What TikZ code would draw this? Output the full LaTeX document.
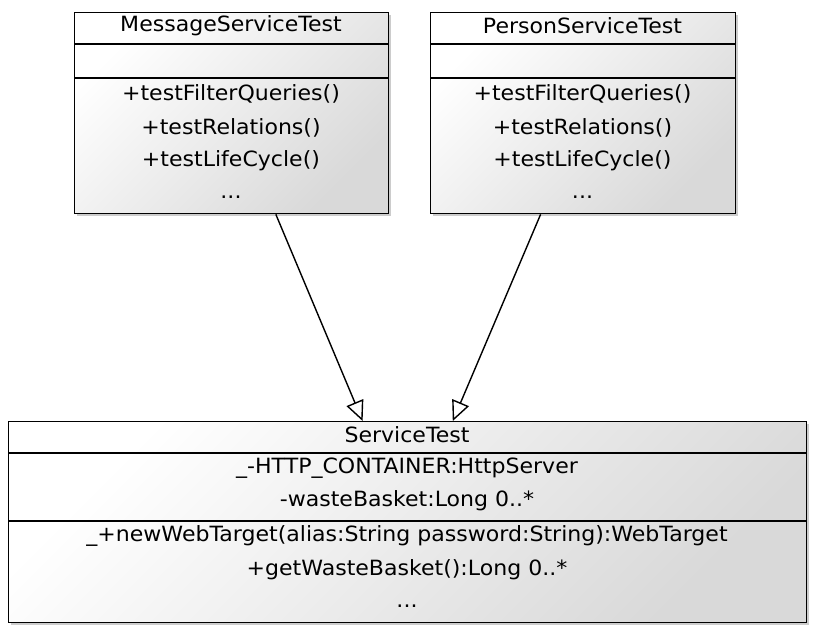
\documentclass[tikz,border=0pt]{standalone}
\usepackage{fontspec}
\usepackage{graphicx}
\setmainfont{DejaVu Sans}
\usetikzlibrary{arrows.meta,shadows,calc}
\newcommand\umltext[1]{\scalebox{1.05}[1]{#1}}
\tikzset{
  umlbox/.style={draw=black, line width=1.4pt, anchor=north west, inner sep=0pt,
    top color=white, bottom color=black!15, shading angle=45,
    drop shadow={shadow xshift=2.5pt, shadow yshift=-2.5pt, opacity=0.2, fill=black}},
  divider/.style={draw=black, line width=1.4pt},
  txt/.style={font=\fontsize{21}{24}\selectfont, inner sep=0pt, anchor=center},
  gen/.style={draw=black, line width=1.4pt, -{Triangle[open, length=20pt, width=18pt, fill=white]}}
}
\begin{document}
\begin{tikzpicture}[x=1pt,y=-1pt]
\useasboundingbox (0,0) rectangle (815,635);
% MessageServiceTest
\node[umlbox, minimum width=314pt, minimum height=201pt] (msg) at (74,12) {};
\draw[divider] (74,44) -- (388,44);
\draw[divider] (74,78) -- (388,78);
\node[txt] (msgt) at (231,26) {\umltext{MessageServiceTest}};
\node[txt] (msgm1) at (231,94) {\umltext{+testFilterQueries()}};
\node[txt] (msgm2) at (231,128) {\umltext{+testRelations()}};
\node[txt] (msgm3) at (231,161) {\umltext{+testLifeCycle()}};
\node[txt] (msgm4) at (231,197) {\umltext{...}};
% PersonServiceTest
\node[umlbox, minimum width=305pt, minimum height=201pt] (per) at (430,12) {};
\draw[divider] (430,44) -- (735,44);
\draw[divider] (430,78) -- (735,78);
\node[txt] (pert) at (582.5,26) {\umltext{PersonServiceTest}};
\node[txt] (perm1) at (582.5,94) {\umltext{+testFilterQueries()}};
\node[txt] (perm2) at (582.5,128) {\umltext{+testRelations()}};
\node[txt] (perm3) at (582.5,161) {\umltext{+testLifeCycle()}};
\node[txt] (perm4) at (582.5,197) {\umltext{...}};
% ServiceTest
\node[umlbox, minimum width=798pt, minimum height=201pt] (srv) at (8,421) {};
\draw[divider] (8,453) -- (806,453);
\draw[divider] (8,521) -- (806,521);
\node[txt] (srvt) at (407,435) {\umltext{ServiceTest}};
\node[txt] (srva1) at (407,468) {\umltext{\_-HTTP\_CONTAINER:HttpServer}};
\node[txt] (srva2) at (407,501) {\umltext{-wasteBasket:Long 0..*}};
\node[txt] (srvm1) at (407,536) {\umltext{\_+newWebTarget(alias:String password:String):WebTarget}};
\node[txt] (srvm2) at (407,570) {\umltext{+getWasteBasket():Long 0..*}};
\node[txt] (srvm3) at (407,606) {\umltext{...}};
% generalizations
\draw[gen] ($(msg.south west)!0.640!(msg.south east)$) -- ($(srv.north west)!0.4436!(srv.north east)$);
\draw[gen] ($(per.south west)!0.361!(per.south east)$) -- ($(srv.north west)!0.5564!(srv.north east)$);
\end{tikzpicture}
\end{document}
